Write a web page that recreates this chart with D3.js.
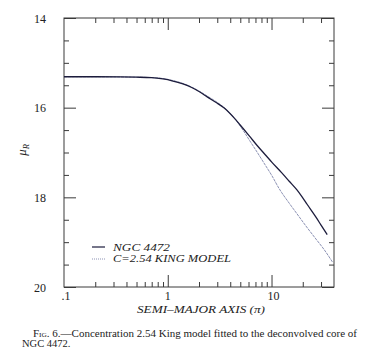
<!DOCTYPE html>
<html><head><meta charset="utf-8">
<script src="https://cdn.jsdelivr.net/npm/d3@7"></script>
<style>
html,body{margin:0;padding:0;background:#fff;}
svg{display:block;}
text{font-family:"Liberation Serif","DejaVu Serif",serif;fill:#222;}
</style></head>
<body>
<svg id="chart" width="368" height="357"></svg>
<script>
// ---- data ----
const radiusNGC = [0.1,0.2,0.35,0.5,0.7,0.9,1.1,1.4,1.7,2.0,2.4,2.9,3.5,4.4,5.3,6.1,7.3,8.7,10.1,12.5,14.8,17.5,19.7,22.1,26.8,30.0,34.4];
const muNGC     = [15.31,15.31,15.315,15.32,15.33,15.36,15.40,15.47,15.55,15.64,15.76,15.88,16.01,16.24,16.46,16.63,16.85,17.05,17.22,17.45,17.64,17.83,17.99,18.16,18.44,18.62,18.83];
const radiusKing = [0.1,0.2,0.35,0.5,0.7,0.9,1.1,1.4,1.7,2.0,2.4,2.9,3.5,4.4,5.3,6.1,7.3,8.7,10.1,11.8,14.8,17.5,21.3,26.8,32.0,38.6];
const muKing     = [15.31,15.31,15.315,15.32,15.33,15.35,15.39,15.46,15.54,15.63,15.74,15.86,16.00,16.24,16.50,16.72,17.00,17.28,17.52,17.80,18.13,18.36,18.63,18.93,19.16,19.44];
const seriesNames = ["NGC  4472", "C=2.54  KING MODEL"];

const yMajorTicks = [14,16,18,20];
const yMinorTicks = [14.5,15,15.5,16.5,17,17.5,18.5,19,19.5];
const xMajorTicks = [1,10];
const xMinorTicks = [0.2,0.3,0.4,0.5,0.6,0.7,0.8,0.9,2,3,4,5,6,7,8,9,20,30];
const xLabelValues = [0.1,1,10];
const xLabelTexts  = [".1","1","10"];
const xTitle = "SEMI\u2013MAJOR AXIS (\u03c0)";
const captionLine1 = ["Fig. 6.", "\u2014Concentration 2.54 King model fitted to the deconvolved core of"];
const captionLine2 = "NGC 4472.";

// ---- layout ----
const L = 64, T = 18, R = 334, B = 287;
const svg = d3.select("#chart");
const x = d3.scaleLog().domain([0.1, 40]).range([L, R]);
const y = d3.scaleLinear().domain([14, 20]).range([T, B]);

const axisColor = "#3a3a3a";
function styleAxis(g){
  g.select(".domain").remove();
  g.selectAll(".tick line").attr("stroke", axisColor).attr("stroke-width", 1);
}

// minor/major ticks, all inward
svg.append("g").attr("transform",`translate(${L},0)`)
  .call(d3.axisLeft(y).tickValues(yMinorTicks).tickSize(-5).tickFormat("")).call(styleAxis);
svg.append("g").attr("transform",`translate(${L},0)`)
  .call(d3.axisLeft(y).tickValues(yMajorTicks).tickSize(-12).tickPadding(18).tickFormat(d3.format("d")))
  .call(styleAxis)
  .call(g=>g.selectAll("text").attr("font-size",12).attr("fill","#222").attr("font-family","Liberation Serif").attr("dy","0.36em"));
svg.append("g").attr("transform",`translate(${R},0)`)
  .call(d3.axisRight(y).tickValues(yMinorTicks).tickSize(-5).tickFormat("")).call(styleAxis);
svg.append("g").attr("transform",`translate(${R},0)`)
  .call(d3.axisRight(y).tickValues(yMajorTicks).tickSize(-12).tickFormat("")).call(styleAxis);

svg.append("g").attr("transform",`translate(0,${B})`)
  .call(d3.axisBottom(x).tickValues(xMinorTicks).tickSize(-5).tickFormat("")).call(styleAxis);
svg.append("g").attr("transform",`translate(0,${B})`)
  .call(d3.axisBottom(x).tickValues(xMajorTicks).tickSize(-12).tickFormat("")).call(styleAxis);
svg.append("g").attr("transform",`translate(0,${T})`)
  .call(d3.axisTop(x).tickValues(xMinorTicks).tickSize(-5).tickFormat("")).call(styleAxis);
svg.append("g").attr("transform",`translate(0,${T})`)
  .call(d3.axisTop(x).tickValues(xMajorTicks).tickSize(-12).tickFormat("")).call(styleAxis);

// x tick labels
svg.append("g").selectAll("text").data(xLabelValues).join("text")
  .attr("x", d=>x(d) + (d===0.1?2:(d===10?2:0))).attr("y", B+13)
  .attr("text-anchor","middle").attr("font-size",12)
  .text((d,i)=>xLabelTexts[i]);

// frame
svg.append("rect").attr("x",L).attr("y",T).attr("width",R-L).attr("height",B-T)
  .attr("fill","none").attr("stroke",axisColor).attr("stroke-width",1);

// curves
const line = d3.line().x(d=>x(d[0])).y(d=>y(d[1])).curve(d3.curveMonotoneX);
svg.append("path").datum(radiusKing.map((r,i)=>[r,muKing[i]]))
  .attr("d",line).attr("fill","none").attr("stroke","#8c92b4").attr("stroke-width",1)
  .attr("stroke-dasharray","3,0.8");
svg.append("path").datum(radiusNGC.map((r,i)=>[r,muNGC[i]]))
  .attr("d",line).attr("fill","none").attr("stroke","#1c1c3c").attr("stroke-width",1.3);

// legend
const lg = svg.append("g");
lg.append("line").attr("x1",92).attr("x2",105).attr("y1",247).attr("y2",247)
  .attr("stroke","#1c1c3c").attr("stroke-width",1.2);
lg.append("line").attr("x1",92).attr("x2",105).attr("y1",259).attr("y2",259)
  .attr("stroke","#8c92b4").attr("stroke-width",1).attr("stroke-dasharray","1,1");
lg.append("text").attr("x",113).attr("y",250.5).attr("font-size",11).attr("font-style","italic")
  .attr("textLength",57).attr("lengthAdjust","spacingAndGlyphs").text(seriesNames[0]);
lg.append("text").attr("x",113).attr("y",262).attr("font-size",11).attr("font-style","italic")
  .attr("textLength",118).attr("lengthAdjust","spacingAndGlyphs").text(seriesNames[1]);

// y-axis label mu_R
const yl = svg.append("text").attr("transform","translate(26,150) rotate(-90)")
  .attr("text-anchor","middle").attr("font-size",13).attr("font-style","italic");
yl.append("tspan").text("\u03bc");
yl.append("tspan").attr("font-size",8.5).attr("dy",2.5).text("R");

// x-axis title
svg.append("text").attr("x",137).attr("y",313).attr("font-size",11).attr("font-style","italic")
  .attr("textLength",128).attr("lengthAdjust","spacingAndGlyphs").text(xTitle);

// caption
const c1 = svg.append("text").attr("x",33).attr("y",337).attr("font-size",10.5)
  .attr("textLength",324).attr("lengthAdjust","spacingAndGlyphs");
c1.append("tspan").style("font-variant","small-caps").text(captionLine1[0]);
c1.append("tspan").text(captionLine1[1]);
svg.append("text").attr("x",22).attr("y",347).attr("font-size",10.5).text(captionLine2);
</script>
</body></html>
